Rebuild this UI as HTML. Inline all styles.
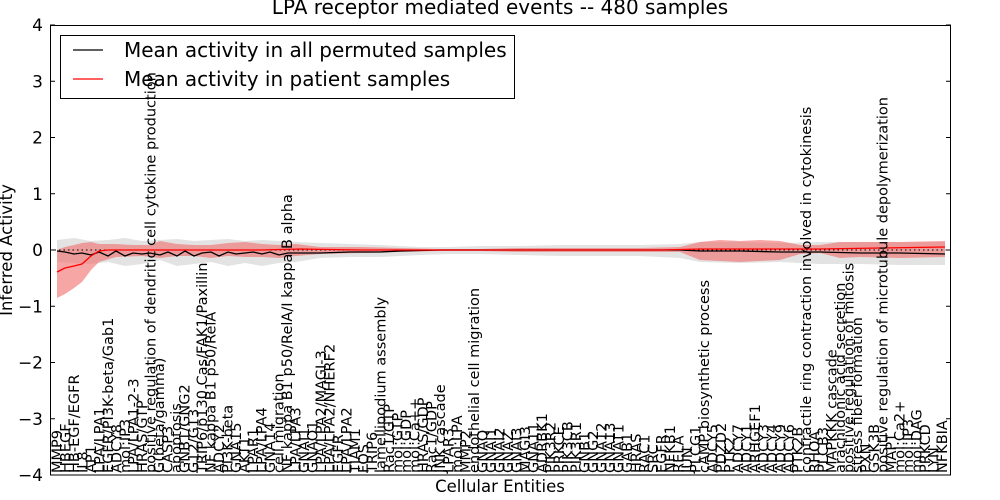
<!DOCTYPE html>
<html><head><meta charset="utf-8"><style>html,body{margin:0;padding:0;background:#fff}svg{display:block}</style></head>
<body>
<svg id="s" width="1000" height="500" xmlns="http://www.w3.org/2000/svg" font-family="DejaVu Sans, Liberation Sans, sans-serif">
<rect width="1000" height="500" fill="#fff"/>
<text x="500" y="14" font-size="20" text-anchor="middle">LPA receptor mediated events -- 480 samples</text>
<defs><clipPath id="c"><rect x="50" y="25" width="901" height="450"/></clipPath></defs>
<g clip-path="url(#c)">
<polygon fill="#d9d9d9" fill-opacity="0.75" points="57,240 74,238 91,241 108,240 125,238 142,241 160,240 177,239 194,241 211,240 228,239 245,241 262,240 279,241 296,242 320,243 350,244 380,245 400,246 420,247 450,247 480,246 520,246 560,245 600,245 640,245 680,244 700,242 740,242 780,243 820,242 860,242 900,242 945,242 945,265 900,265 860,264 820,264 780,262 740,263 700,262 680,258 640,256 600,256 560,256 520,255 480,254 450,254 420,255 400,256 380,257 350,257 320,258 296,262 279,263 262,266 245,263 228,266 211,262 194,264 177,266 160,260 142,264 125,266 108,262 91,264 74,263 57,262"/>
<polygon fill="#f26b6b" fill-opacity="0.6" points="57,250 65,247 74,245 82,243 91,242 99,244 116,244 133,245 150,245 160,241 177,244 194,245 211,245 228,243 245,242 262,244 279,245 296,244 320,247 360,247 400,248 440,249 480,249 520,248 560,248 600,248 640,248 680,247 700,242 720,240 740,241 760,240 780,241 800,245 820,245 840,242 860,242 900,242 945,241 945,257 900,258 860,257 840,258 820,253 800,254 780,260 760,261 740,262 720,261 700,260 680,252 640,252 600,252 560,252 520,252 480,251 440,251 400,252 360,253 320,254 296,256 279,258 262,257 245,257 228,256 211,258 194,256 177,256 160,258 142,256 116,257 99,262 91,270 82,282 74,288 65,294 57,298"/>
<line x1="50" y1="250" x2="951" y2="250" stroke="#000" stroke-width="1" stroke-dasharray="1.5,3"/>
<polyline fill="none" stroke="#000" stroke-width="1.3" points="57,251 65,252 74,254 82,253 91,255 99,252 108,256 116,251 125,256 133,253 142,254 150,253 160,255 168,252 177,256 185,251 194,256 202,253 211,252 219,256 228,252 236,254 245,253 253,252 262,254 270,252 279,255 288,253 296,253 320,253 350,252 380,252 400,251 440,250 480,250 520,250 560,250 600,250 640,250 680,250 700,251 740,251 780,252 820,252 860,253 900,253 945,254"/>
<polyline fill="none" stroke="#f00" stroke-width="1.3" points="57,272 65,268 74,266 82,264 91,256 99,251 108,250 150,250 200,250 260,250 300,249 360,250 420,250 480,250 540,250 600,250 660,250 700,249 760,249 820,249 880,248 945,247"/>
</g>
<rect x="50.5" y="25.5" width="900" height="449.5" fill="none" stroke="#000" stroke-width="1"/>
<g id="yt" font-size="17" text-anchor="end"></g>
<rect x="60.5" y="35.5" width="454" height="63" fill="#fff" stroke="#000"/>
<line x1="73" y1="50" x2="103" y2="50" stroke="#000" stroke-width="1.3"/>
<line x1="73" y1="79" x2="103" y2="79" stroke="#f00" stroke-width="1.3"/>
<text x="124" y="57" font-size="20">Mean activity in all permuted samples</text>
<text x="124" y="86" font-size="20">Mean activity in patient samples</text>
<g id="xl" font-size="14.5"></g>
<text x="500" y="492" font-size="16.5" text-anchor="middle">Cellular Entities</text>
<text transform="translate(12,250) rotate(-90)" font-size="16.5" text-anchor="middle">Inferred Activity</text>
</svg>
<script>
var ns="http://www.w3.org/2000/svg",yt=document.getElementById("yt");
for(var v=-4;v<=4;v++){var y=250-56.25*v;
var t=document.createElementNS(ns,"text");t.setAttribute("x",43);t.setAttribute("y",y+6);t.textContent=(v<0?"\u2212":"")+Math.abs(v);yt.appendChild(t);
[[50,55],[946,951]].forEach(function(a){var l=document.createElementNS(ns,"line");l.setAttribute("x1",a[0]);l.setAttribute("x2",a[1]);l.setAttribute("y1",y);l.setAttribute("y2",y);l.setAttribute("stroke","#000");yt.appendChild(l);});}
var L=["MMP9","HBEGF","HB-EGF/EGFR","IL8","AP1","LPA/LPA1","EGFR/PI3K-beta/Gab1","ADCY8","mol:IP3","LPA/LPA1-2-3","HRAS/GTP","positive regulation of dendritic cell cytokine production","G(beta/gamma)","CASP3","apoptosis","GNB1/GNG2","G12/G13","TRIP6/p130 Cas/FAK1/Paxillin","NF kappa B1 p50/RelA","ADCY2","PI3K-beta","GNA15","AKT1","LPAR1","LPA/LPA4","GNA14","cell migration","NF kappa B1 p50/RelA/I kappa B alpha","LPA/LPA3","GNAI1","GNAO1","LPA/LPA2/MAGI-3","LPA/LPA2/NHERF2","EGFR","LPA/LPA2","TIAM1","FOS","TRIP6","lamellipodium assembly","Rac1/GTP","mol:GTP","mol:GDP","mol:Ca++","HRAS/GDP","Rac1/GDP","JNK cascade","LPAR3","mol:LPA","MMP2","endothelial cell migration","GNAQ","GNAI1","GNAI2","GNAZ","GNAI3","MAGI3","GNA11","ADRBK1","PIK3R2","PRKCE","PIK3CB","PIK3R1","GNB1","GNG2","GNA12","GNA13","GNAT1","GAB1","HRAS","RAC1","SRC","EGFR","NFKB1","RELA","JUN","PLCG1","cAMP biosynthetic process","ADCY5","PDZD2","PTK2","ADCY7","ADCY1","ARHGEF1","ADCY3","ADCY4","ADCY9","ADCY6","PTK2B","contractile ring contraction involved in cytokinesis","RHOA","PLCB3","MAPKKK cascade","arachidonic acid secretion","positive regulation of mitosis","stress fiber formation","PXN","GSK3B","positive regulation of microtubule depolymerization","MAPT","mol:Ca2+","mol:IP3","mol:DAG","PRKCD","LYN","NFKBIA"];
var xl=document.getElementById("xl"),n=L.length;
for(var i=0;i<n;i++){var x=57+i*885/(n-1);var t=document.createElementNS(ns,"text");
t.setAttribute("transform","translate("+x.toFixed(1)+",473) rotate(-90)");t.setAttribute("dy","0.35em");t.textContent=L[i];xl.appendChild(t);}
</script>
</body></html>
